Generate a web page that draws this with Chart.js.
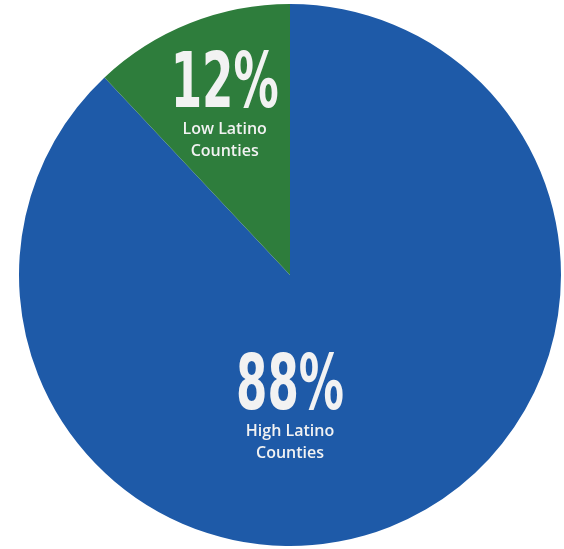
<!DOCTYPE html>
<html>
<head>
<meta charset="utf-8">
<script src="https://cdn.jsdelivr.net/npm/chart.js@4"></script>
<style>
  html, body { margin: 0; padding: 0; background: #fff; }
  #wrap { width: 564px; height: 549px; }
</style>
</head>
<body>
<div id="wrap"><canvas id="pie"></canvas></div>
<script>
// data
var categories = ['High Latino Counties', 'Low Latino Counties'];
var values = [88, 12];
var lineOne = ['High Latino', 'Low Latino'];
var lineTwo = ['Counties', 'Counties'];
var colors = ['#1e5aa8', '#2e7d3c'];

// draws the big percentages and the small names inside the slices
var sliceText = {
    id: 'sliceText',
    afterDatasetsDraw: function (chart) {
        var ctx = chart.ctx;
        var arcs = chart.getDatasetMeta(0).data;
        var total = values.reduce(function (a, b) { return a + b; }, 0);
        arcs.forEach(function (arc, i) {
            var p = arc.getProps(['x', 'y', 'startAngle', 'endAngle', 'outerRadius']);
            var x, y;
            if (i === 0) {
                // big slice: label sits below the centre
                x = p.x;
                y = p.y + p.outerRadius * 0.493;
            } else {
                var mid = (p.startAngle + p.endAngle) / 2;
                x = p.x + Math.cos(mid) * p.outerRadius * 0.655;
                y = p.y + Math.sin(mid) * p.outerRadius * 0.655 - 3;
            }
            var pct = Math.round(values[i] / total * 100) + '%';
            ctx.save();
            ctx.fillStyle = '#f2f2f2';
            ctx.textAlign = 'center';
            ctx.textBaseline = 'alphabetic';
            // condensed look for the numbers
            ctx.save();
            ctx.translate(x, y);
            ctx.scale(0.66, 1);
            ctx.font = 'bold 76px "DejaVu Sans Condensed", "DejaVu Sans", sans-serif';
            ctx.fillText(pct, 0, 0);
            ctx.restore();
            ctx.font = '600 16px "Open Sans", "Noto Sans", sans-serif';
            ctx.fillText(lineOne[i], x, y + 27);
            ctx.fillText(lineTwo[i], x, y + 49);
            ctx.restore();
        });
    }
};

var ctx = document.getElementById('pie');
var chartPie = new Chart(ctx, {
    type: 'pie',
    data: {
        labels: categories,
        datasets: [{
            data: values,
            backgroundColor: colors,
            borderWidth: 0
        }]
    },
    options: {
        responsive: true,
        maintainAspectRatio: false,
        animation: false,
        layout: { padding: { left: 19, right: 3, top: 4, bottom: 3 } },
        plugins: {
            legend: { display: false },
            tooltip: { enabled: false }
        }
    },
    plugins: [sliceText]
});
</script>
</body>
</html>
